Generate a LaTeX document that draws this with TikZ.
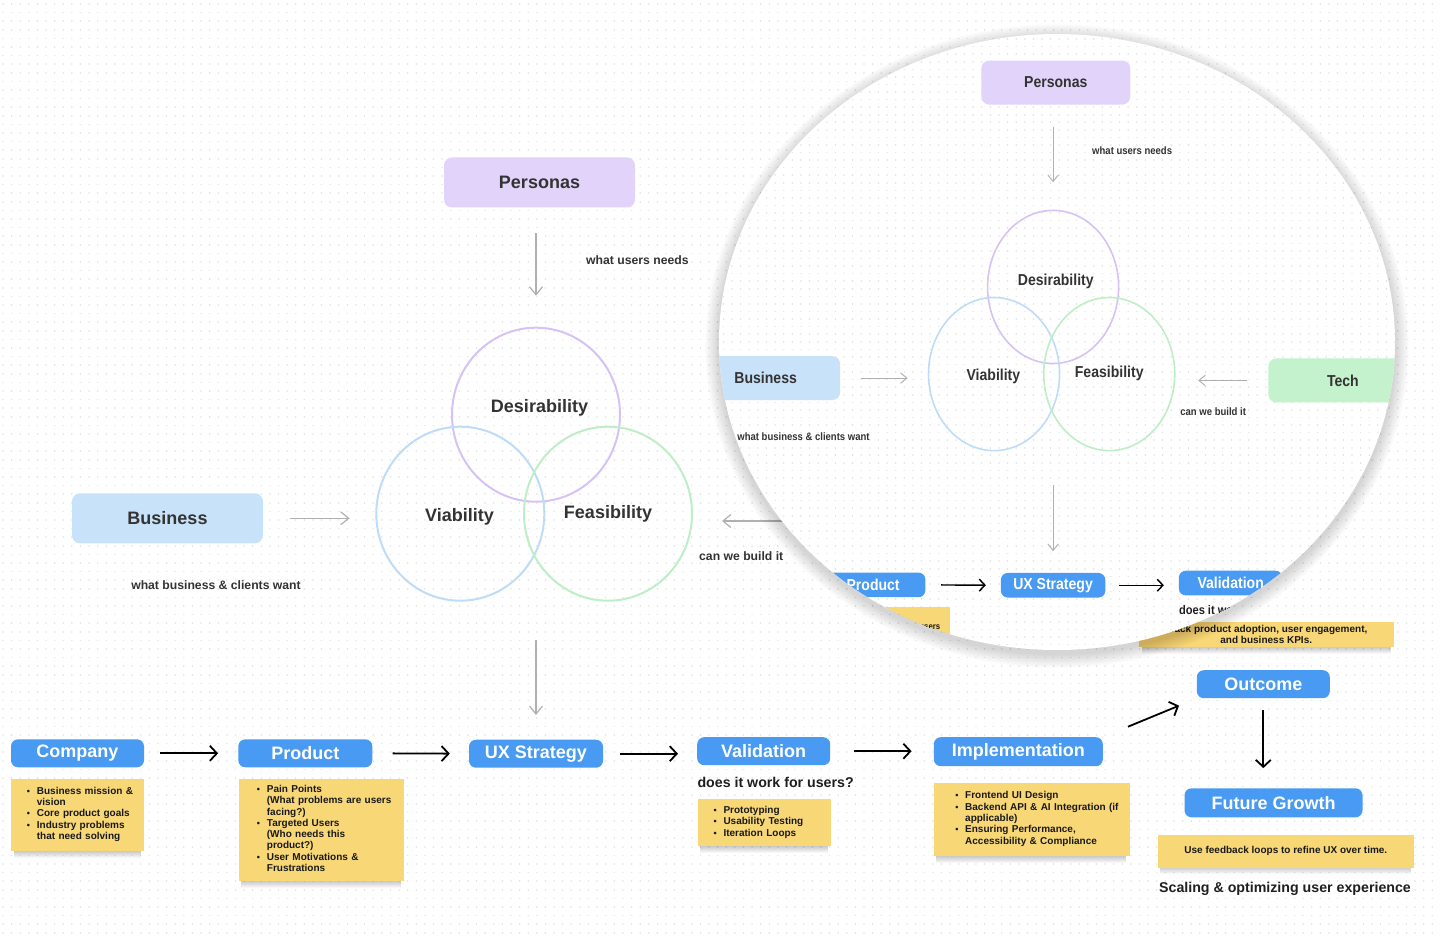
\documentclass[tikz,border=0pt]{standalone}
\usepackage{fontspec}
\setmainfont{Liberation Sans}
\usepackage{graphicx}
\usetikzlibrary{arrows.meta,shapes.geometric}

\definecolor{boxblue}{RGB}{72,154,242}
\definecolor{perfill}{RGB}{226,211,250}
\definecolor{busfill}{RGB}{200,226,250}
\definecolor{techfill}{RGB}{195,242,204}
\definecolor{notey}{RGB}{248,215,118}
\definecolor{cpurple}{RGB}{214,194,245}
\definecolor{cblue}{RGB}{190,220,248}
\definecolor{cgreen}{RGB}{190,238,198}
\definecolor{txt}{RGB}{51,51,51}
\definecolor{garr}{RGB}{176,176,176}
\definecolor{dotc}{RGB}{226,226,226}

\newif\ifinner \innerfalse
\def\sxs{1}\def\sys{1}
\newcommand\setlook[1]{%
  \tikzset{
    blackarr/.style={draw=black, line width=#1*1.8pt, -{Straight Barb[length=7pt, width=15pt, scale=#1]}},
    grayarr/.style={draw=garr, line width=#1*1.2pt, -{Straight Barb[length=8pt, width=13pt, scale=#1]}},
    vennline/.style={line width=#1*2pt},
  }}
\setlook{1}
\tikzset{
  dotrow/.style={draw=dotc, line width=1.6pt, line cap=round, dash pattern=on 0.01pt off 8.6pt},
  bluebox/.style={fill=boxblue, rounded corners=7pt, text=white, font=\fontsize{18}{20}\selectfont\bfseries, minimum height=28, inner sep=0pt},
  softbox/.style={rounded corners=8pt, text=txt, font=\fontsize{18}{20}\selectfont\bfseries, minimum width=191, minimum height=50, inner sep=0pt},
  venn/.style={ellipse, draw=#1, vennline, minimum width=168, minimum height=174, inner sep=0pt, outer sep=0pt},
  vlabel/.style={text=txt, font=\fontsize{18}{20}\selectfont\bfseries, inner sep=0pt},
  lbl/.style={text=txt, font=\fontsize{12.2}{14}\selectfont\bfseries, inner sep=0pt},
  lblb/.style={text=black!88, font=\fontsize{14.2}{16}\selectfont\bfseries, inner sep=0pt},
  note/.style={fill=notey, inner sep=0pt, text=black!90, font=\fontsize{10}{11.3}\selectfont\bfseries},
}
\newcommand\bl{\llap{\scalebox{0.9}{•}\hspace{6.8pt}}}
\newcommand\nl[2]{\begin{tabular}{@{\hspace{#1pt}}l@{}}#2\end{tabular}}
\newcommand\nshadow[4]{\foreach \i in {1,...,7}{\fill[black,opacity=0.03] (#1+3,#2+\i) rectangle (#3-3,#4+\i);}}

\newcommand\basepic{%
  \foreach \yy in {4,12.6,...,936} {\draw[dotrow] (3,\yy) -- (1440,\yy);}
  % top part
  \node[softbox, fill=perfill] (pers) at (539.5,182.5) {Personas};
  \node[venn=cpurple] (des) at (536,414.7) {};
  \node[venn=cblue] (via) at (460.3,513.7) {};
  \node[venn=cgreen] (fea) at (608,513.7) {};
  \node[vlabel] (desl) at (539.5,408) {Desirability};
  \node[vlabel] (vial) at (459.5,516.5) {Viability};
  \node[vlabel] (feal) at (608,513.5) {Feasibility};
  \draw[grayarr, shorten <=25.3*\sys, shorten >=32*\sys] (pers.south -| des.north) -- (des.north);
  \node[lbl, anchor=west] (wun) at (586,260) {what users needs};
  \node[softbox, fill=busfill] (bus) at (167.5,518.3) {Business};
  \draw[grayarr, shorten <=26.7*\sxs, shorten >=26.7*\sxs] (bus.east) -- (bus.east -| via.west);
  \node[lbl] (bwant) at (216,585) {what business \& clients want};
  \node[softbox, fill=techfill] (tech) at (907.5,521) {Tech};
  \draw[grayarr, shorten <=27*\sxs, shorten >=30*\sxs] (tech.west) -- (tech.west -| fea.east);
  \node[lbl, anchor=west] (cwb) at (699,556) {can we build it};
  % flow row
  \node[bluebox, minimum width=134] (prod) at (305.3,753.3) {Product};
  \node[bluebox, minimum width=134] (ux) at (536,753.7) {UX Strategy};
  \node[bluebox, minimum width=133] (val) at (763.7,751.2) {Validation};
  \draw[grayarr, shorten <=39.3*\sys, shorten >=24.5*\sys] (ux.north |- via.south) -- (ux.north);
  \draw[blackarr, shorten <=20*\sxs, shorten >=19*\sxs] (prod.east) -- (ux.west);
  \draw[blackarr, shorten <=17*\sxs, shorten >=19*\sxs] (ux.east) -- (ux.east -| val.west);
  \node[lblb, anchor=west] (dw) at (697.3,782.3) {does it work for users?};
  \nshadow{238.3}{778.3}{404}{880.7}
  \node[note, anchor=north west, minimum width=165.7, minimum height=102.4, text width=165.7, align=left] (pnote) at (238.3,778.3)
    {\nl{28.4}{\bl Pain Points\\ (What problems are users\\ facing?)\\ \bl Targeted Users\\ (Who needs this\\ product?)\\ \bl User Motivations \&\\ Frustrations}};
  \ifinner\else
  \node[bluebox, minimum width=133] (comp) at (77.5,753.3) {Company};
  \node[bluebox, minimum width=169, minimum height=29] (impl) at (1018.3,751.7) {Implementation};
  \node[bluebox, minimum width=133] (outc) at (1263.3,684.2) {Outcome};
  \node[bluebox, minimum width=178, minimum height=29] (fg) at (1273.5,802.8) {Future Growth};
  \draw[blackarr, shorten <=16*\sxs, shorten >=20*\sxs] (comp.east) -- (prod.west);
  \draw[blackarr, shorten <=24*\sxs, shorten >=22*\sxs] (val.east) -- (val.east -| impl.west);
  \draw[blackarr, shorten <=27, shorten >=19] (impl.north east) -- (outc.south west);
  \draw[blackarr, shorten <=11.7, shorten >=20] (outc.south) -- (outc.south |- fg.north);
  \node[lblb] (scal) at (1285,889.3) {Scaling \& optimizing user experience};
  \nshadow{11}{778.3}{144}{850.7}
  \node[note, anchor=north west, minimum width=133, minimum height=72.4, text width=133, align=left] (cnote) at (11,778.3)
    {\nl{25.7}{\bl Business mission \&\\ vision\\ \bl Core product goals\\ \bl Industry problems\\ that need solving}};
  \nshadow{697.3}{799}{830.7}{846}
  \node[note, anchor=north west, minimum width=133.4, minimum height=47, text width=133.4, align=left] (vnote) at (697.3,799)
    {\nl{26}{\bl Prototyping\\ \bl Usability Testing\\ \bl Iteration Loops}};
  \nshadow{933.3}{782.3}{1129.3}{855.7}
  \node[note, anchor=north west, minimum width=196, minimum height=73.4, text width=196, align=left] (inote) at (933.3,782.3)
    {\nl{31.7}{\bl Frontend UI Design\\ \bl Backend API \& AI Integration (if\\ applicable)\\ \bl Ensuring Performance,\\ Accessibility \& Compliance}};
  \nshadow{1157.3}{835}{1414}{867.3}
  \node[note, anchor=north west, minimum width=256.7, minimum height=32.3] (fgnote) at (1157.3,835)
    {Use feedback loops to refine UX over time.};
  \nshadow{1138.6}{621.7}{1393.5}{646.7}
  \node[note, anchor=north west, minimum width=254.9, minimum height=25, align=center, font=\fontsize{10}{11.7}\selectfont\bfseries] (onote) at (1138.6,621.7)
    {Track product adoption, user engagement,\\ and business KPIs.};
  \fi
}

\begin{document}
\begin{tikzpicture}[x=1pt,y=-1pt]
\useasboundingbox (0,0) rectangle (1440,936);
\fill[white] (0,0) rectangle (1440,936);
\basepic
% magnifier
\foreach \i in {1,...,14}{\fill[black,opacity=0.013] (1057,346) ellipse[x radius=338+\i, y radius=308+\i];}
\fill[white] (1057,342) ellipse[x radius=338, y radius=308];
\begin{scope}
  \clip (1057,342) ellipse[x radius=338, y radius=308];
  \begin{scope}[shift={(635,-78)}, xscale=0.78, yscale=0.88, transform shape]
    \def\sxs{0.78}\def\sys{0.88}\setlook{0.8}\innertrue
    \basepic
  \end{scope}
\end{scope}
\end{tikzpicture}
\end{document}
